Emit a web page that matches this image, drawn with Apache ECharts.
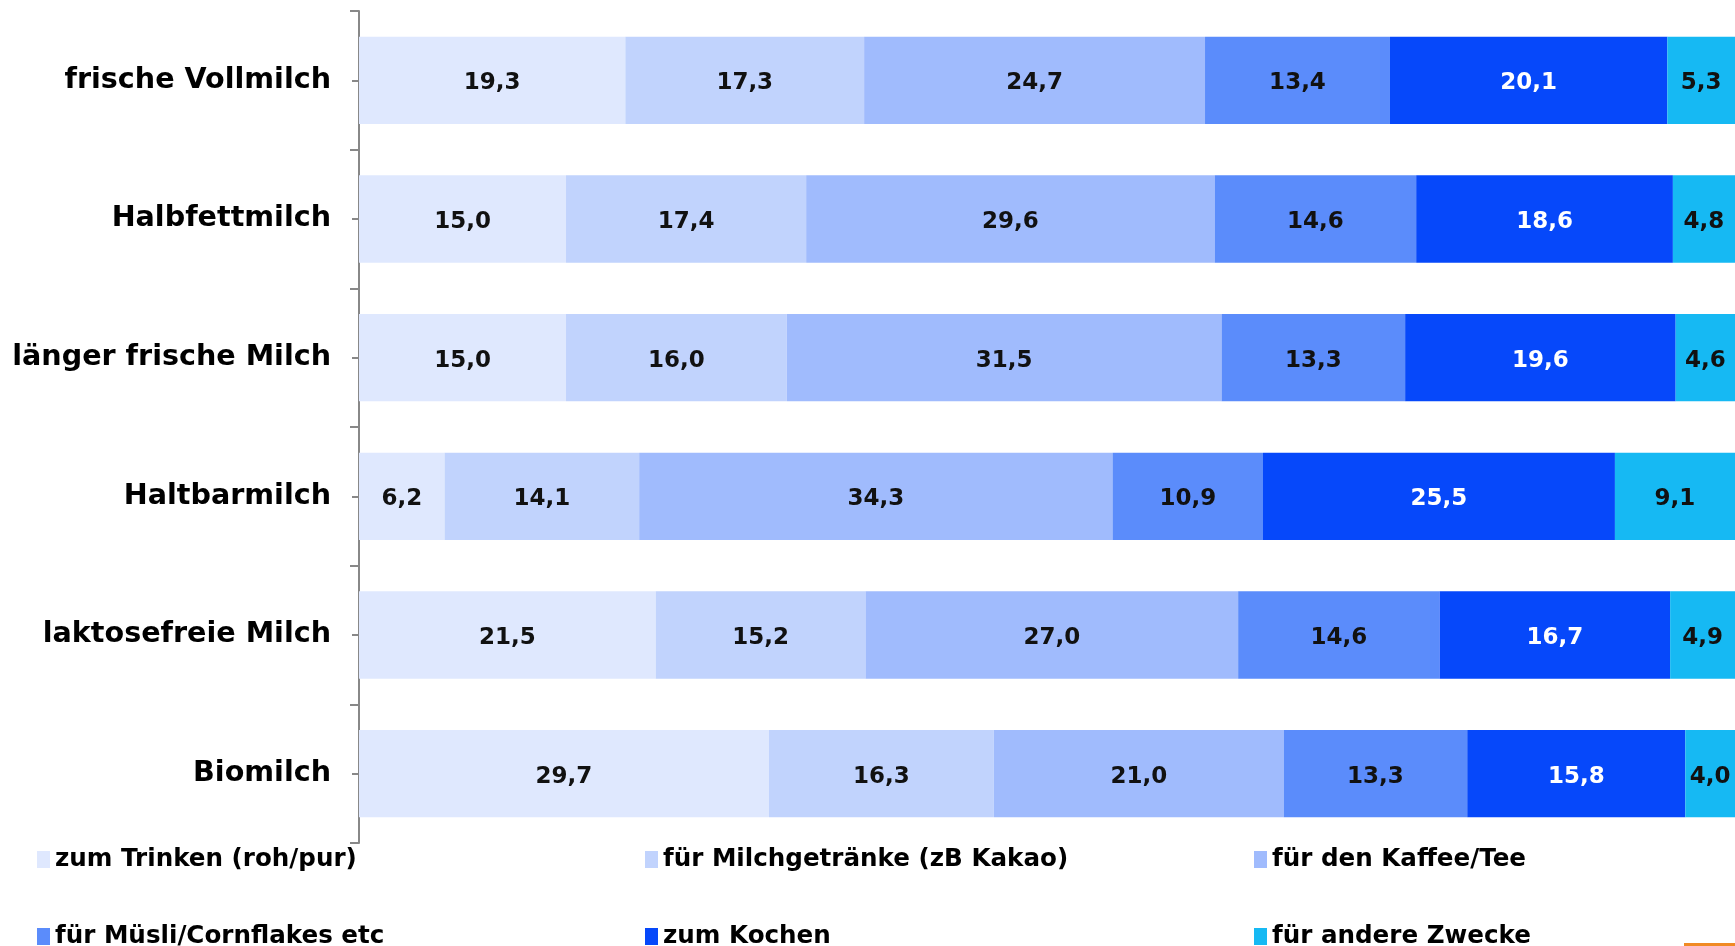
<!DOCTYPE html>
<html>
<head>
    <meta charset="utf-8">
    <title>Milch Verwendung</title>
    <style>html,body{margin:0;padding:0;background:#fff;}</style>
</head>
<body>
    <div id="main" style="width: 1735px;height:946px;"></div>
    <script src="https://cdn.jsdelivr.net/npm/echarts@6/dist/echarts.min.js"></script>
    <script type="text/javascript">
    var categories = ['frische Vollmilch', 'Halbfettmilch', 'länger frische Milch', 'Haltbarmilch', 'laktosefreie Milch', 'Biomilch'];
    var seriesNames = ['zum Trinken (roh/pur)', 'für Milchgetränke (zB Kakao)', 'für den Kaffee/Tee',
                       'für Müsli/Cornflakes etc', 'zum Kochen', 'für andere Zwecke'];
    var trinken     = [19.3, 15.0, 15.0, 6.2, 21.5, 29.7];
    var getraenke   = [17.3, 17.4, 16.0, 14.1, 15.2, 16.3];
    var kaffee      = [24.7, 29.6, 31.5, 34.3, 27.0, 21.0];
    var muesli      = [13.4, 14.6, 13.3, 10.9, 14.6, 13.3];
    var kochen      = [20.1, 18.6, 19.6, 25.5, 16.7, 15.8];
    var andere      = [5.3, 4.8, 4.6, 9.1, 4.9, 4.0];

    var values = [trinken, getraenke, kaffee, muesli, kochen, andere];
    var colors = ['#dfe8fe', '#c1d3fd', '#a0bbfd', '#5b8cfb', '#0648fa', '#16b9f3'];
    var labelColors = ['#111', '#111', '#111', '#111', '#fff', '#111'];
    var font = 'DejaVu Sans';

    var myChart = echarts.init(document.getElementById('main'));

    var series = seriesNames.map(function (name, i) {
        return {
            name: name,
            type: 'bar',
            stack: 'total',
            yAxisIndex: 0,
            barCategoryGap: '37%',
            itemStyle: {color: colors[i]},
            label: {
                show: true,
                position: 'inside',
                offset: [0, 3],
                color: labelColors[i],
                fontFamily: font,
                fontWeight: 'bold',
                fontSize: 23,
                formatter: function (p) { return p.value.toFixed(1).replace('.', ','); }
            },
            data: values[i]
        };
    });

    // legend: 3 Spalten x 2 Zeilen, jedes Element einzeln platziert
    var legendLeft = [37, 645, 1254];
    var legendTop = [847, 924];
    var legends = seriesNames.map(function (name, i) {
        return {
            left: legendLeft[i % 3],
            top: legendTop[Math.floor(i / 3)],
            itemWidth: 13,
            itemHeight: 17,
            icon: 'rect',
            selectedMode: false,
            padding: 0,
            textStyle: {fontFamily: font, fontWeight: 'bold', fontSize: 24.6, color: '#000'},
            data: [name]
        };
    });

    var tickStyle = {color: '#888', width: 2};
    var option = {
        animation: false,
        grid: {left: 359, right: 0, top: 11, bottom: 103},
        legend: legends,
        // der rechte Rand der Grafik ist abgeschnitten, daher endet die Achse knapp vor 100
        xAxis: {
            type: 'value', min: 0, max: 99.7,
            show: false
        },
        yAxis: [
            {
                type: 'category', inverse: true, data: categories,
                axisLine: {show: true, lineStyle: tickStyle},
                axisTick: {show: true, length: 9, lineStyle: tickStyle},
                axisLabel: {fontFamily: font, fontWeight: 'bold', fontSize: 28.6, color: '#000', margin: 28, padding: [8, 0, 0, 0]}
            },
            {
                type: 'category', inverse: true, data: categories, position: 'left',
                axisLine: {show: false},
                axisTick: {show: true, alignWithLabel: true, length: 7, lineStyle: tickStyle},
                axisLabel: {show: false}
            }
        ],
        graphic: [{
            type: 'rect', left: 1684, top: 943,
            shape: {width: 51, height: 3},
            style: {fill: '#f08a24'}
        }],
        series: series
    };
    myChart.setOption(option);
    </script>
</body>
</html>
